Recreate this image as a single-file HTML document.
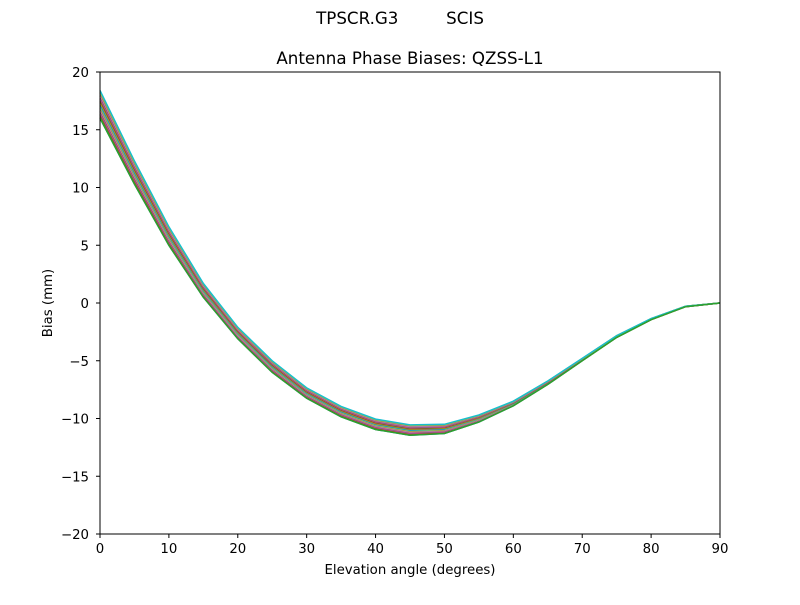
<!DOCTYPE html>
<html><head><meta charset="utf-8"><style>
body{margin:0;background:#fff;}
svg text{font-family:"DejaVu Sans","Liberation Sans",sans-serif;fill:#000;}
</style></head><body>
<svg id="s" width="800" height="600" xmlns="http://www.w3.org/2000/svg">
<rect width="800" height="600" fill="#fff"/>
<text x="400" y="24" font-size="16.7" text-anchor="middle" xml:space="preserve">TPSCR.G3         SCIS</text>
<text x="410" y="64" font-size="16.7" text-anchor="middle">Antenna Phase Biases: QZSS-L1</text>
<g id="lines"></g>
<rect x="100" y="72" width="620" height="462" fill="none" stroke="#000" stroke-width="1"/>
<g id="ticks" font-size="13.3"></g>
<text x="410" y="574" font-size="13.3" text-anchor="middle">Elevation angle (degrees)</text>
<text x="52" y="303" font-size="13.3" text-anchor="middle" transform="rotate(-90 52 303)">Bias (mm)</text>
</svg>
<script>
var X=function(e){return 100+e*620/90;},Y=function(v){return 303-v*462/40;};
var c=[17.2,11.3,5.8,1.1,-2.6,-5.5,-7.8,-9.4,-10.5,-11.0,-10.9,-10.0,-8.7,-6.9,-4.9,-2.9,-1.4,-0.3,0];
var sp=[1.2,1.0,0.8,0.6,0.5,0.5,0.45,0.45,0.45,0.45,0.4,0.3,0.2,0.15,0.1,0.08,0.05,0.02,0];
var cols=["#1f77b4","#ff7f0e","#2ca02c","#d62728","#9467bd","#8c564b","#e377c2","#7f7f7f","#bcbd22","#17becf"];
var g=document.getElementById('lines'),h='';
var N=20;
for(var k=0;k<N;k++){var f=-1+2*k/(N-1);var p=[];
for(var i=0;i<19;i++)p.push(X(i*5).toFixed(1)+','+Y(c[i]+f*sp[i]).toFixed(1));
h+='<polyline fill="none" stroke="'+cols[k%10]+'" stroke-width="1.5" points="'+p.join(' ')+'"/>';}
h+='<polyline fill="none" stroke="#2ca02c" stroke-width="1.5" points="'+c.map(function(v,i){return X(i*5).toFixed(1)+','+Y(v-sp[i]).toFixed(1);}).join(' ')+'"/>';
g.innerHTML=h;
var t='';
for(var e=0;e<=90;e+=10){var x=X(e);t+='<line x1="'+x+'" y1="534" x2="'+x+'" y2="538" stroke="#000"/><text x="'+x+'" y="553" text-anchor="middle">'+e+'</text>';}
for(var v=-20;v<=20;v+=5){var y=Y(v);t+='<line x1="96" y1="'+y+'" x2="100" y2="'+y+'" stroke="#000"/><text x="89" y="'+(y+5)+'" text-anchor="end">'+(v<0?'\u2212'+(-v):v)+'</text>';}
document.getElementById('ticks').innerHTML=t;
</script>
</body></html>
